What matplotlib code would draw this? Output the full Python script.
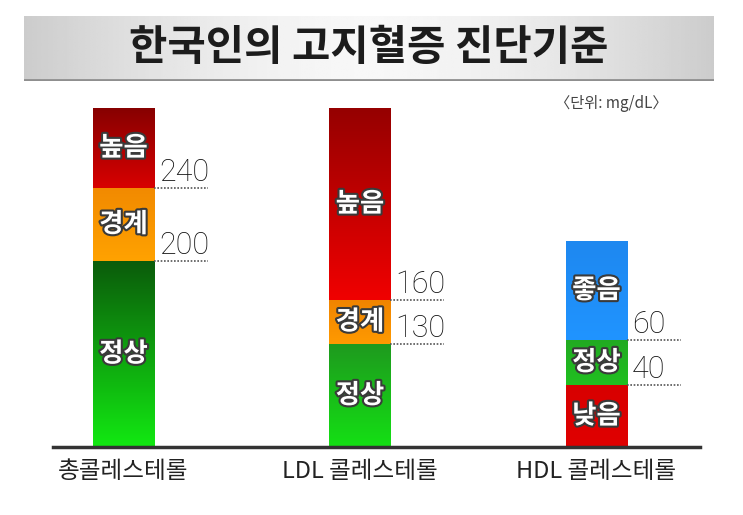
import numpy as np
import matplotlib.pyplot as plt
import matplotlib.patheffects as pe
from matplotlib.colors import LinearSegmentedColormap

plt.rcParams['font.family'] = ['Noto Sans CJK KR', 'DejaVu Sans']

# data: drawn (schematic) segment heights, bottom to top
categories = ['총콜레스테롤', 'LDL 콜레스테롤', 'HDL 콜레스테롤']
tc_labels = ['정상', '경계', '높음']
tc_heights = [186, 73, 80]
tc_cuts = ['200', '240']
ldl_labels = ['정상', '경계', '높음']
ldl_heights = [103, 44, 192]
ldl_cuts = ['130', '160']
hdl_labels = ['낮음', '정상', '좋음']
hdl_heights = [62, 45, 99]
hdl_cuts = ['40', '60']

# gradient colours (bottom, top) per segment
tc_colors = [('#12e812', '#0b5c0b'), ('#ffa200', '#f28a00'), ('#d80000', '#870000')]
ldl_colors = [('#14e014', '#1e9a1e'), ('#ff9a00', '#f08400'), ('#f00000', '#960000')]
hdl_colors = [('#e00000', '#d80000'), ('#20c020', '#22aa22'), ('#2094ff', '#1e88f0')]

bars = [
    (tc_labels, tc_heights, tc_cuts, tc_colors),
    (ldl_labels, ldl_heights, ldl_cuts, ldl_colors),
    (hdl_labels, hdl_heights, hdl_cuts, hdl_colors),
]

fig = plt.figure(figsize=(7.43, 5.15), dpi=100)

# title banner
bx = fig.add_axes([24 / 743, 1 - 81 / 515, 690 / 743, 65 / 515])
xs = np.linspace(-1, 1, 300)
band = 0.97 - 0.17 * np.abs(xs) ** 1.6
bx.imshow(np.tile(band, (20, 1)), cmap='gray', vmin=0, vmax=1, aspect='auto',
          extent=[0, 1, 0, 1])
bx.axhline(0.015, color='#8f8f8f', lw=2)
bx.set_xlim(0, 1)
bx.set_ylim(0, 1)
bx.axis('off')
bx.text(0.5, 0.5, '한국인의 고지혈증 진단기준', ha='center', va='center',
        fontsize=30, fontweight='bold', color='#1c1c1c')

fig.text(668 / 743, 1 - 104 / 515, '〈단위: mg/dL〉', ha='right', va='center',
         fontsize=11, color='#444444')

ax = fig.add_axes([53 / 743, 1 - 447 / 515, 647 / 743, 339 / 515])
width = 0.258
grad = np.linspace(0, 1, 100).reshape(-1, 1)
outline = [pe.Stroke(linewidth=3, foreground='#3a3a3a'), pe.Normal()]

for i, (labels, heights, cuts, colors) in enumerate(bars):
    bottoms = np.concatenate([[0], np.cumsum(heights)[:-1]])
    rects = ax.bar(i, heights, bottom=bottoms, width=width, color='none',
                   edgecolor='none')
    for rect, lab, (c0, c1) in zip(rects, labels, colors):
        cmap = LinearSegmentedColormap.from_list('seg', [c0, c1])
        x0, y0 = rect.get_x(), rect.get_y()
        img = ax.imshow(grad, cmap=cmap, origin='lower', aspect='auto',
                        extent=[x0, x0 + rect.get_width(), y0, y0 + rect.get_height()])
        img.set_clip_path(rect)
        ax.text(i, y0 + rect.get_height() / 2, lab, ha='center', va='center',
                fontsize=19, fontweight='bold', color='white', path_effects=outline)
    for cut, yb in zip(cuts, bottoms[1:]):
        ax.plot([i + width / 2, i + width / 2 + 0.228], [yb, yb], ls=(0, (1, 1)),
                color='#555555', lw=1.2)
        ax.text(i + width / 2 + 0.022, yb + 1, cut, ha='left', va='bottom',
                fontsize=22, fontweight='light', color='#111111',
                family=['Roboto', 'DejaVu Sans'])

ax.set_xlim(-0.298, 2.438)
ax.set_ylim(0, 339)
ax.set_xticks(range(len(categories)))
ax.set_xticklabels(categories, fontsize=17, color='#222222', fontweight='medium')
ax.tick_params(axis='x', length=0, pad=9)
ax.set_yticks([])
for s in ['top', 'left', 'right']:
    ax.spines[s].set_visible(False)
ax.spines['bottom'].set_linewidth(2.5)
ax.spines['bottom'].set_color('#333333')
ax.set_facecolor('none')

fig.savefig('out.png', dpi=100)
